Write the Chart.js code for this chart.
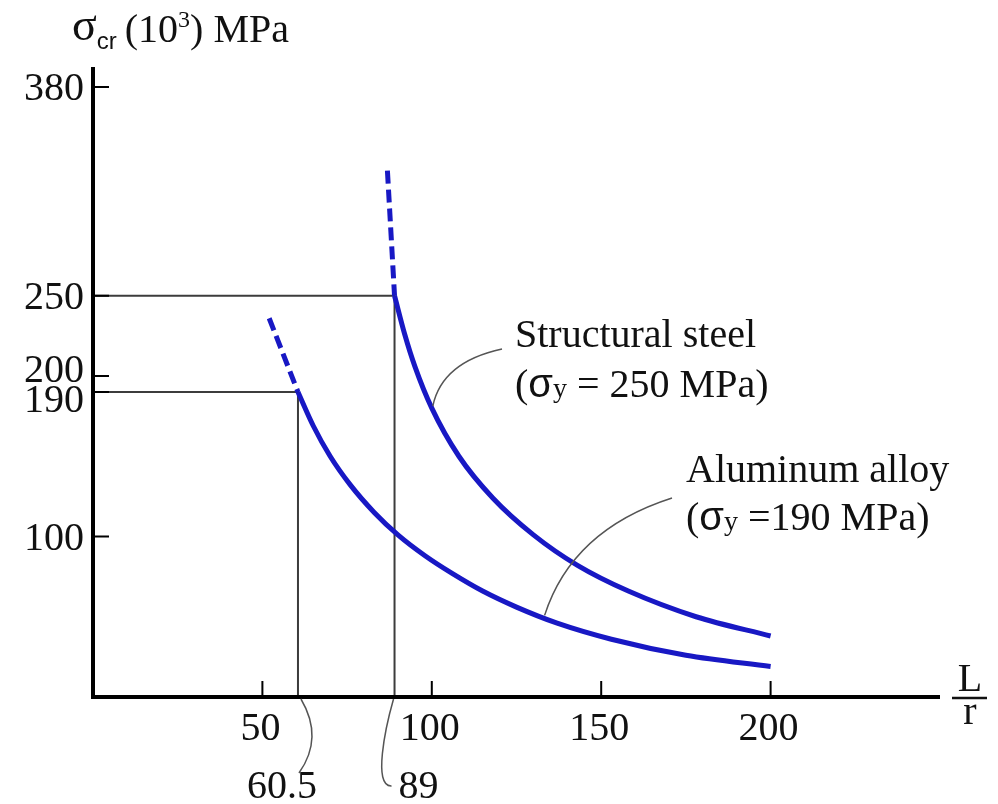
<!DOCTYPE html>
<html><head><meta charset="utf-8">
<script src="https://cdn.jsdelivr.net/npm/chart.js@4/dist/chart.umd.min.js"></script>
<style>html,body{margin:0;padding:0;background:#fff}canvas{display:block}</style>
</head><body>
<canvas id="c" width="998" height="804"></canvas>
<script>
// ---- data ----
const xTicks = [50, 100, 150, 200];
const yTicks = [100, 190, 200, 250, 380];
const steelLR    = [89, 92, 95, 100, 108, 118, 130, 143, 158, 178, 200];
const steelSigma = [250, 226, 206, 180, 150, 124, 101, 82, 66, 50, 38];
const steelDashLR    = [86.9, 89];
const steelDashSigma = [328, 250];
const alumLR    = [60.5, 65, 70, 76, 83, 90, 98, 106, 115, 125, 137, 153, 175, 200];
const alumSigma = [190, 169, 150, 132, 115, 101, 88, 77, 66, 56, 46, 36, 26, 19];
const alumDashLR    = [52, 60.5];
const alumDashSigma = [236, 190];
const yieldLR    = [60.5, 89];     // aluminum alloy, structural steel
const yieldSigma = [190, 250];
const yieldLRLabels = ['60.5', '89'];
const steelLeaderAt = [100, 180];
const alumLeaderAt  = [133, 49];

const BLUE = '#1818c4';
const SERIF = '"Liberation Serif", "Times New Roman", serif';
const SANS = '"Liberation Sans", Arial, sans-serif';
const pts = (xs, ys) => xs.map((x, i) => ({x: x, y: ys[i]}));
const yieldPath = i => [{x: 0, y: yieldSigma[i]}, {x: yieldLR[i], y: yieldSigma[i]}, {x: yieldLR[i], y: 0}];

const decor = {
  id: 'decor',
  afterDraw(chart) {
    const ctx = chart.ctx, xs = chart.scales.x, ys = chart.scales.y;
    const {left, right, top, bottom} = chart.chartArea;
    ctx.save();
    // axes
    ctx.strokeStyle = '#000'; ctx.lineWidth = 4; ctx.lineCap = 'butt';
    ctx.beginPath();
    ctx.moveTo(left, top + 12); ctx.lineTo(left, bottom + 2);
    ctx.moveTo(left - 2, bottom); ctx.lineTo(right, bottom);
    ctx.stroke();
    // ticks
    ctx.lineWidth = 2;
    ctx.beginPath();
    yTicks.forEach(v => { const y = ys.getPixelForValue(v); ctx.moveTo(left, y); ctx.lineTo(left + 16, y); });
    xTicks.forEach(v => { const x = xs.getPixelForValue(v); ctx.moveTo(x, bottom); ctx.lineTo(x, bottom - 16); });
    ctx.stroke();
    // tick labels
    ctx.fillStyle = '#111';
    ctx.font = '40px ' + SERIF;
    ctx.textAlign = 'right'; ctx.textBaseline = 'alphabetic';
    const ypos = yTicks.map(v => ys.getPixelForValue(v));
    const adj = ypos.slice();
    for (let i = 0; i < adj.length - 1; i++) {
      const gap = adj[i] - adj[i + 1];
      if (gap < 30) { const d = (30 - gap) / 2; adj[i] += d; adj[i + 1] -= d; }
    }
    yTicks.forEach((v, i) => ctx.fillText(String(v), left - 9, adj[i] + 13));
    ctx.textAlign = 'center';
    xTicks.forEach(v => ctx.fillText(String(v), xs.getPixelForValue(v) - 2, bottom + 43));
    // yield L/r labels with leaders below the axis
    const xa = xs.getPixelForValue(yieldLR[0]), xb = xs.getPixelForValue(yieldLR[1]);
    ctx.fillText(yieldLRLabels[0], xa - 16, bottom + 101);
    ctx.fillText(yieldLRLabels[1], xb + 24, bottom + 101);
    ctx.strokeStyle = '#555'; ctx.lineWidth = 1.5;
    ctx.beginPath();
    ctx.moveTo(xa + 3, bottom + 2);
    ctx.quadraticCurveTo(xa + 26, bottom + 41, xa + 1, bottom + 76);
    ctx.moveTo(xb - 1, bottom + 2);
    ctx.bezierCurveTo(xb - 9, bottom + 30, xb - 22, bottom + 90, xb - 3, bottom + 89);
    ctx.stroke();
    // L / r
    ctx.fillStyle = '#111';
    ctx.fillText('L', right + 30, bottom - 6);
    ctx.fillText('r', right + 30, bottom + 27);
    ctx.strokeStyle = '#111'; ctx.lineWidth = 2.5;
    ctx.beginPath(); ctx.moveTo(right + 12, bottom + 1); ctx.lineTo(right + 47, bottom + 1); ctx.stroke();

    // y-axis title
    ctx.textAlign = 'left';
    let x = 72;
    const put = (t, font, y) => { ctx.font = font; ctx.fillText(t, x, y); x += ctx.measureText(t).width; };
    put('σ', '46px ' + SERIF, 40);
    put('cr', '24px ' + SANS, 49);
    x += 8;
    put('(10', '40px ' + SERIF, 42);
    put('3', '24px ' + SERIF, 27);
    put(') MPa', '40px ' + SERIF, 42);

    // series labels
    const label2 = (x0, y0, val) => {
      x = x0;
      put('(', '40px ' + SERIF, y0);
      put('σ', '40px ' + SANS, y0);
      put('y', '28px ' + SERIF, y0);
      put(val, '40px ' + SERIF, y0);
    };
    ctx.font = '40px ' + SERIF;
    ctx.fillText('Structural steel', 515, 347);
    label2(515, 397, ' = 250 MPa)');
    ctx.font = '40px ' + SERIF;
    ctx.fillText('Aluminum alloy', 686, 482);
    label2(686, 530, ' =190 MPa)');

    // leader lines to curves
    ctx.strokeStyle = '#555'; ctx.lineWidth = 1.5;
    const sx = xs.getPixelForValue(steelLeaderAt[0]), sy = ys.getPixelForValue(steelLeaderAt[1]);
    const ax = xs.getPixelForValue(alumLeaderAt[0]), ay = ys.getPixelForValue(alumLeaderAt[1]);
    ctx.beginPath();
    ctx.moveTo(502, 349); ctx.quadraticCurveTo(442, 362, sx + 1, sy - 2);
    ctx.moveTo(672, 498); ctx.quadraticCurveTo(572, 530, ax + 1, ay - 3);
    ctx.stroke();
    ctx.restore();
  }
};

new Chart(document.getElementById('c'), {
  type: 'line',
  data: {
    datasets: [
      {label: 'Aluminum yield', data: yieldPath(0), borderColor: '#3c3c3c', borderWidth: 2, tension: 0, pointRadius: 0, order: 5},
      {label: 'Steel yield', data: yieldPath(1), borderColor: '#3c3c3c', borderWidth: 2, tension: 0, pointRadius: 0, order: 5},
      {label: 'Structural steel', data: pts(steelLR, steelSigma), borderColor: BLUE, borderWidth: 5, cubicInterpolationMode: 'monotone', pointRadius: 0, order: 1},
      {label: 'Structural steel (dashed)', data: pts(steelDashLR, steelDashSigma), borderColor: BLUE, borderWidth: 5, borderDash: [13, 6], pointRadius: 0, order: 1},
      {label: 'Aluminum alloy', data: pts(alumLR, alumSigma), borderColor: BLUE, borderWidth: 5, cubicInterpolationMode: 'monotone', pointRadius: 0, order: 1},
      {label: 'Aluminum alloy (dashed)', data: pts(alumDashLR, alumDashSigma), borderColor: BLUE, borderWidth: 5, borderDash: [13, 6], pointRadius: 0, order: 1}
    ]
  },
  options: {
    responsive: false,
    animation: false,
    layout: {padding: {left: 93, right: 58, top: 55, bottom: 107}},
    plugins: {legend: {display: false}, tooltip: {enabled: false}},
    scales: {
      x: {type: 'linear', min: 0, max: 250, display: false},
      y: {type: 'linear', min: 0, max: 400, display: false}
    }
  },
  plugins: [decor]
});
</script>
</body></html>
